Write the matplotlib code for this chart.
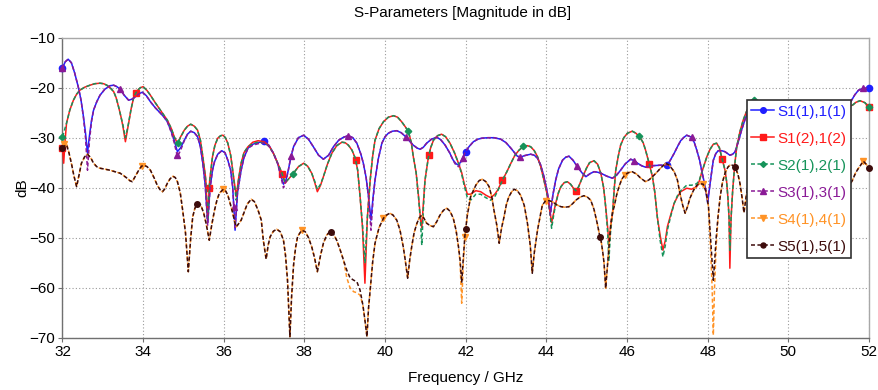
import numpy as np
import matplotlib
matplotlib.use("Agg")
import matplotlib.pyplot as plt
from matplotlib.lines import Line2D

plt.rcParams['font.family'] = ['Liberation Sans', 'DejaVu Sans']

# ---------------- data ----------------
freq_a = [32.00, 32.07, 32.14, 32.22, 32.30, 32.39, 32.46, 32.52, 32.57, 32.62, 32.67, 32.72, 32.77, 32.85, 32.93,
          33.05, 33.18, 33.27, 33.35, 33.43, 33.53, 33.64, 33.72, 33.81, 33.90, 33.98, 34.08, 34.18, 34.30, 34.43,
          34.52, 34.60, 34.70, 34.77, 34.85, 34.93, 35.02, 35.10, 35.18, 35.27, 35.35, 35.42, 35.48, 35.54, 35.60,
          35.66, 35.72, 35.77, 35.85, 35.95, 36.03, 36.10, 36.17, 36.22, 36.28, 36.34, 36.43, 36.50, 36.60, 36.72,
          36.85, 37.00, 37.12, 37.23, 37.33, 37.40, 37.48, 37.54, 37.60, 37.66, 37.73, 37.85, 37.98, 38.10, 38.22,
          38.35, 38.47, 38.60, 38.72, 38.85, 38.97, 39.09, 39.20, 39.30, 39.40, 39.46, 39.53, 39.59, 39.65, 39.70,
          39.75, 39.83, 39.92, 40.00, 40.08, 40.18, 40.29, 40.40, 40.51, 40.60, 40.70, 40.80, 40.87, 40.95, 41.03,
          41.15, 41.28, 41.38, 41.49, 41.60, 41.69, 41.76, 41.82, 41.90, 41.98, 42.08, 42.19, 42.30, 42.40, 42.55,
          42.70, 42.87, 43.00, 43.12, 43.20, 43.28, 43.36, 43.45, 43.61, 43.70, 43.78, 43.86, 43.94, 44.00, 44.04,
          44.10, 44.16, 44.23, 44.30, 44.40, 44.48, 44.56, 44.66, 44.77, 44.88, 44.98, 45.08, 45.18, 45.27, 45.35,
          45.50, 45.64, 45.74, 45.84, 45.96, 46.09, 46.18, 46.26, 46.36, 46.46, 46.55, 46.63, 46.83, 47.00, 47.08,
          47.17, 47.25, 47.33, 47.40, 47.48, 47.60, 47.67, 47.73, 47.80, 47.85, 47.93, 48.00, 48.07, 48.14, 48.20,
          48.26, 48.35, 48.43, 48.55, 48.62, 48.68, 48.76, 48.84, 48.92, 49.01, 49.10, 49.30, 49.60, 50.00, 50.40,
          50.80, 51.20, 51.50, 51.57, 51.65, 51.74, 51.86, 52.00]
s11 = [-16.0, -14.8, -14.3, -15.0, -17.0, -19.8, -22.5, -25.8, -29.0, -33.1, -29.5, -26.5, -24.5, -22.8, -21.5,
       -20.3, -19.6, -19.5, -19.8, -20.3, -21.5, -22.5, -22.3, -21.8, -21.2, -20.9, -21.6, -22.8, -24.0, -25.1,
       -25.9, -26.8, -28.8, -30.5, -32.8, -32.0, -30.5, -29.3, -28.7, -29.0, -29.8, -31.8, -35.1, -39.5, -47.0,
       -40.0, -36.5, -34.8, -33.3, -32.6, -33.0, -34.5, -36.5, -39.8, -48.5, -41.0, -36.5, -34.0, -32.1, -31.3,
       -31.0, -30.7, -31.5, -33.1, -35.0, -37.1, -39.3, -38.5, -36.5, -34.0, -31.8, -30.0, -29.5, -30.3, -31.8,
       -33.5, -34.3, -33.5, -31.8, -30.5, -29.9, -29.6, -30.0, -31.1, -33.3, -35.1, -38.0, -41.8, -46.5, -42.0,
       -38.5, -34.3, -31.1, -29.8, -29.1, -28.7, -28.6, -29.0, -29.8, -30.6, -31.5, -32.1, -32.3, -31.9, -31.1,
       -30.3, -29.9, -30.4, -31.5, -33.0, -34.5, -35.2, -35.5, -34.5, -33.0, -31.8, -30.8, -30.3, -30.1, -30.0,
       -30.0, -30.3, -31.0, -32.1, -32.9, -33.7, -33.9, -33.6, -33.3, -33.5, -34.1, -35.5, -37.8, -40.0, -41.8,
       -45.1, -41.5, -38.5, -36.3, -34.5, -33.9, -33.7, -34.5, -35.8, -37.0, -37.8, -37.2, -36.8, -36.9, -37.1,
       -37.7, -38.1, -37.5, -36.5, -35.2, -34.3, -34.6, -35.1, -35.6, -35.9, -35.7, -35.6, -35.5, -35.5, -34.4,
       -33.1, -31.8, -30.6, -30.0, -29.5, -29.9, -31.0, -32.5, -34.5, -36.5, -39.5, -43.1, -38.5, -34.5, -33.2,
       -32.6, -32.6, -32.8, -33.5, -33.3, -32.8, -30.8, -28.5, -26.5, -24.5, -23.2, -23.5, -24.5, -26.0, -27.5,
       -26.5, -24.5, -23.2, -22.5, -21.4, -20.5, -20.1, -20.1]
s33 = [-16.1, -14.8, -14.3, -15.0, -17.0, -19.8, -22.5, -26.0, -30.0, -36.5, -30.5, -26.8, -24.5, -22.8, -21.5,
       -20.3, -19.6, -19.5, -19.8, -20.3, -21.5, -22.5, -22.3, -21.8, -21.2, -20.9, -21.6, -22.8, -24.0, -25.1,
       -25.9, -26.8, -29.0, -31.0, -33.8, -32.5, -30.6, -29.3, -28.7, -29.0, -29.8, -31.8, -35.1, -39.5, -47.5,
       -40.0, -36.5, -34.8, -33.3, -32.6, -33.0, -34.5, -36.5, -39.8, -48.0, -41.0, -36.5, -34.0, -32.1, -31.5,
       -31.2, -31.0, -31.7, -33.1, -35.0, -37.3, -40.0, -38.8, -36.5, -34.0, -31.8, -30.0, -29.5, -30.3, -31.8,
       -33.5, -34.3, -33.5, -31.8, -30.5, -29.9, -29.6, -30.0, -31.1, -33.3, -35.1, -38.0, -42.0, -48.5, -42.5,
       -38.5, -34.3, -31.1, -29.8, -29.1, -28.7, -28.6, -29.0, -29.8, -30.6, -31.5, -32.1, -32.3, -31.9, -31.1,
       -30.3, -29.9, -30.4, -31.5, -33.0, -34.6, -35.5, -35.8, -34.8, -33.0, -31.8, -30.8, -30.3, -30.1, -30.0,
       -30.0, -30.3, -31.0, -32.1, -32.9, -33.7, -33.9, -33.6, -33.3, -33.5, -34.1, -35.5, -37.8, -40.0, -41.8,
       -45.5, -41.5, -38.5, -36.3, -34.5, -33.9, -33.7, -34.5, -35.8, -37.0, -37.8, -37.2, -36.8, -36.9, -37.1,
       -37.7, -38.1, -37.5, -36.5, -35.2, -34.3, -34.6, -35.1, -35.6, -35.9, -35.7, -35.6, -35.5, -35.5, -34.4,
       -33.1, -31.8, -30.6, -30.0, -29.5, -29.9, -31.0, -32.5, -34.5, -36.5, -39.5, -42.5, -38.5, -34.5, -33.2,
       -32.6, -32.6, -32.8, -33.5, -33.3, -32.8, -30.8, -28.5, -26.5, -24.5, -23.2, -23.5, -24.5, -26.0, -27.5,
       -26.5, -24.5, -23.2, -22.5, -21.4, -20.5, -20.1, -20.1]

freq_b = [32.00, 32.03, 32.06, 32.10, 32.18, 32.27, 32.35, 32.43, 32.55, 32.68, 32.80, 32.93, 33.02, 33.10, 33.18,
          33.27, 33.33, 33.39, 33.45, 33.50, 33.56, 33.60, 33.64, 33.70, 33.77, 33.85, 33.93, 34.00, 34.09, 34.18,
          34.30, 34.43, 34.52, 34.60, 34.70, 34.77, 34.85, 34.93, 35.02, 35.10, 35.18, 35.27, 35.35, 35.42, 35.48,
          35.55, 35.60, 35.65, 35.72, 35.78, 35.85, 35.92, 35.98, 36.04, 36.10, 36.17, 36.22, 36.27, 36.31, 36.36,
          36.43, 36.50, 36.60, 36.72, 36.85, 37.00, 37.12, 37.23, 37.33, 37.44, 37.52, 37.60, 37.71, 37.85, 37.98,
          38.08, 38.18, 38.25, 38.32, 38.40, 38.47, 38.57, 38.68, 38.80, 38.93, 39.01, 39.09, 39.18, 39.26, 39.32,
          39.38, 39.44, 39.50, 39.56, 39.63, 39.69, 39.75, 39.85, 39.96, 40.08, 40.21, 40.31, 40.41, 40.50, 40.58,
          40.65, 40.70, 40.77, 40.83, 40.88, 40.91, 40.95, 40.99, 41.07, 41.13, 41.20, 41.30, 41.40, 41.50, 41.61,
          41.72, 41.82, 41.90, 41.96, 42.04, 42.12, 42.25, 42.37, 42.50, 42.62, 42.72, 42.79, 42.91, 43.02, 43.12,
          43.22, 43.32, 43.45, 43.53, 43.61, 43.70, 43.78, 43.86, 43.94, 44.01, 44.07, 44.13, 44.18, 44.23, 44.30,
          44.36, 44.44, 44.52, 44.60, 44.69, 44.73, 44.80, 44.90, 45.00, 45.07, 45.18, 45.27, 45.35, 45.42, 45.47,
          45.52, 45.55, 45.59, 45.64, 45.68, 45.72, 45.78, 45.84, 45.92, 46.01, 46.13, 46.22, 46.32, 46.40, 46.46,
          46.56, 46.63, 46.69, 46.75, 46.82, 46.89, 46.95, 47.00, 47.08, 47.17, 47.25, 47.33, 47.48, 47.60, 47.73,
          47.80, 47.85, 47.92, 47.98, 48.06, 48.14, 48.22, 48.29, 48.35, 48.43, 48.47, 48.50, 48.53, 48.55, 48.58,
          48.62, 48.67, 48.72, 48.80, 48.88, 48.96, 49.05, 49.14, 49.30, 49.70, 50.10, 50.50, 50.90, 51.30, 51.59,
          51.68, 51.78, 51.90, 52.00]
s12 = [-32.0, -35.1, -31.0, -27.1, -24.5, -22.5, -21.3, -20.5, -19.9, -19.5, -19.2, -19.1, -19.2, -19.5, -20.0,
       -20.8, -22.0, -23.8, -25.8, -27.8, -30.8, -29.0, -27.1, -24.3, -21.8, -20.6, -20.0, -19.8, -20.5, -21.5,
       -23.0, -24.5, -25.5, -26.5, -28.2, -29.8, -31.1, -29.8, -28.5, -27.7, -27.3, -27.7, -28.5, -30.5, -33.8,
       -38.0, -45.8, -38.5, -33.8, -31.5, -30.1, -29.6, -29.5, -30.0, -31.1, -33.5, -36.5, -39.5, -41.8, -38.5,
       -35.1, -33.0, -31.8, -30.9, -30.6, -30.8, -31.6, -33.1, -35.0, -37.0, -39.1, -38.3, -37.3, -35.8, -35.1,
       -35.7, -37.1, -38.8, -40.8, -39.5, -37.8, -35.3, -33.1, -31.6, -30.9, -31.0, -31.5, -32.5, -34.1, -36.5,
       -41.8, -48.0, -59.1, -46.0, -38.5, -33.8, -30.5, -28.2, -26.8, -25.9, -25.6, -25.9, -26.8, -27.8, -28.8,
       -31.0, -33.8, -37.0, -41.8, -46.5, -48.0, -43.0, -38.5, -34.1, -32.0, -30.5, -29.6, -29.3, -29.8, -31.1,
       -33.0, -35.1, -37.0, -39.1, -41.3, -41.3, -40.6, -40.8, -41.5, -42.0, -41.3, -40.5, -38.5, -36.8, -35.1,
       -33.5, -32.5, -31.6, -31.6, -31.8, -32.6, -33.8, -35.8, -38.5, -41.0, -43.8, -47.0, -45.0, -43.1, -41.0,
       -39.8, -39.0, -38.8, -39.3, -40.3, -40.6, -39.8, -37.8, -36.0, -35.0, -34.6, -35.3, -37.1, -40.0, -43.8,
       -48.0, -51.5, -48.0, -45.1, -40.5, -36.5, -33.8, -31.5, -30.0, -29.1, -28.7, -29.1, -29.9, -31.0, -32.5,
       -35.5, -37.8, -41.0, -45.8, -49.5, -52.5, -50.5, -47.8, -45.5, -43.1, -41.8, -40.8, -40.1, -40.3, -39.8,
       -38.5, -37.0, -35.3, -33.8, -32.3, -31.3, -31.1, -32.0, -34.0, -36.5, -38.8, -41.8, -46.0, -56.1, -46.0,
       -40.5, -35.5, -31.8, -28.8, -26.5, -24.8, -23.5, -22.5, -23.0, -25.5, -28.0, -27.5, -25.5, -24.2, -23.5,
       -22.9, -22.6, -23.0, -23.9]
s21 = [-29.8, -29.0, -28.2, -27.1, -24.5, -22.5, -21.3, -20.5, -19.9, -19.5, -19.2, -19.1, -19.2, -19.5, -20.0,
       -20.8, -22.0, -23.8, -25.8, -27.5, -30.0, -28.6, -27.0, -24.3, -21.8, -20.6, -20.0, -19.8, -20.5, -21.5,
       -23.0, -24.5, -25.5, -26.5, -28.2, -29.8, -31.3, -29.9, -28.5, -27.7, -27.3, -27.7, -28.5, -30.5, -33.8,
       -38.5, -46.5, -38.8, -33.8, -31.5, -30.1, -29.6, -29.5, -30.0, -31.1, -33.5, -36.5, -40.0, -42.5, -38.8,
       -35.1, -33.0, -31.8, -31.2, -30.9, -31.0, -31.7, -33.1, -35.0, -37.0, -39.0, -38.3, -37.3, -35.8, -35.1,
       -35.7, -37.1, -38.6, -40.3, -39.3, -37.8, -35.3, -33.1, -31.6, -30.9, -31.0, -31.5, -32.5, -34.1, -36.5,
       -41.8, -47.5, -55.1, -46.0, -38.5, -33.8, -30.5, -28.2, -26.8, -25.9, -25.6, -25.9, -26.8, -27.8, -28.8,
       -31.0, -33.8, -37.0, -42.0, -47.0, -51.5, -44.0, -38.5, -34.1, -32.0, -30.5, -29.6, -29.3, -29.8, -31.1,
       -33.0, -35.1, -37.3, -39.5, -42.0, -42.5, -41.3, -41.3, -42.0, -42.5, -41.8, -40.7, -38.5, -36.8, -35.1,
       -33.5, -32.5, -31.6, -31.6, -31.8, -32.6, -33.8, -35.8, -38.5, -41.0, -44.0, -48.1, -45.5, -43.3, -41.0,
       -39.8, -39.0, -38.8, -39.3, -40.3, -40.6, -39.8, -37.8, -36.0, -35.0, -34.6, -35.3, -37.1, -40.0, -43.8,
       -49.0, -54.5, -49.0, -45.1, -40.5, -36.5, -33.8, -31.5, -30.0, -29.1, -28.7, -29.1, -29.9, -31.0, -32.5,
       -35.5, -37.8, -41.0, -45.8, -50.5, -53.8, -51.5, -48.5, -45.8, -43.1, -41.6, -40.6, -39.5, -39.5, -39.2,
       -38.3, -37.0, -35.3, -33.8, -32.3, -31.3, -31.1, -32.0, -34.0, -36.5, -38.8, -41.8, -46.0, -52.5, -46.0,
       -40.5, -35.5, -31.8, -28.8, -26.5, -24.8, -23.5, -22.4, -23.0, -25.5, -28.0, -27.5, -25.5, -24.2, -23.5,
       -22.9, -22.6, -23.0, -23.9]

freq_c = [32.00, 32.06, 32.10, 32.16, 32.22, 32.28, 32.35, 32.41, 32.47, 32.55, 32.62, 32.70, 32.77, 32.85, 32.93,
          33.05, 33.18, 33.30, 33.43, 33.52, 33.60, 33.67, 33.73, 33.80, 33.89, 33.96, 34.02, 34.10, 34.18, 34.27,
          34.35, 34.42, 34.48, 34.54, 34.60, 34.67, 34.74, 34.80, 34.85, 34.92, 34.98, 35.05, 35.12, 35.18, 35.23,
          35.28, 35.33, 35.38, 35.43, 35.50, 35.56, 35.64, 35.70, 35.77, 35.83, 35.89, 35.99, 36.05, 36.10, 36.16,
          36.22, 36.27, 36.31, 36.36, 36.43, 36.50, 36.58, 36.68, 36.76, 36.85, 36.93, 36.98, 37.05, 37.10, 37.15,
          37.23, 37.31, 37.40, 37.48, 37.53, 37.58, 37.64, 37.68, 37.73, 37.78, 37.83, 37.93, 38.02, 38.10, 38.18,
          38.25, 38.32, 38.40, 38.47, 38.55, 38.64, 38.72, 38.80, 38.88, 38.97, 39.05, 39.13, 39.22, 39.30, 39.38,
          39.45, 39.50, 39.55, 39.59, 39.63, 39.69, 39.75, 39.85, 39.96, 40.05, 40.12, 40.20, 40.29, 40.37, 40.45,
          40.50, 40.56, 40.61, 40.66, 40.72, 40.79, 40.85, 40.91, 40.97, 41.03, 41.12, 41.20, 41.28, 41.36, 41.45,
          41.53, 41.61, 41.69, 41.76, 41.82, 41.86, 41.90, 41.94, 41.98, 42.04, 42.12, 42.25, 42.33, 42.41, 42.50,
          42.58, 42.65, 42.70, 42.77, 42.83, 42.89, 42.95, 43.01, 43.07, 43.14, 43.20, 43.28, 43.36, 43.45, 43.53,
          43.60, 43.65, 43.70, 43.78, 43.85, 43.90, 43.98, 44.07, 44.15, 44.25, 44.36, 44.46, 44.56, 44.65, 44.73,
          44.83, 44.93, 45.02, 45.10, 45.18, 45.26, 45.32, 45.36, 45.40, 45.43, 45.47, 45.51, 45.55, 45.60, 45.64,
          45.68, 45.74, 45.80, 45.87, 45.94, 46.03, 46.13, 46.24, 46.34, 46.46, 46.55, 46.63, 46.73, 46.83, 46.96,
          47.05, 47.17, 47.25, 47.31, 47.38, 47.44, 47.50, 47.56, 47.65, 47.73, 47.81, 47.89, 47.96, 48.02, 48.07,
          48.11, 48.14, 48.17, 48.21, 48.26, 48.31, 48.37, 48.43, 48.50, 48.55, 48.62, 48.68, 48.75, 48.80, 48.85,
          48.90, 48.95, 48.98, 49.05, 49.30, 49.60, 50.00, 50.40, 50.80, 51.10, 51.35, 51.59, 51.67, 51.74, 51.86,
          51.93, 52.00]
s44 = [-31.5, -31.0, -31.1, -33.0, -35.1, -37.5, -39.8, -37.5, -35.1, -33.8, -33.3, -34.0, -35.1, -35.8, -36.1,
       -36.3, -36.5, -36.8, -37.1, -37.6, -38.1, -38.6, -38.8, -37.8, -36.5, -35.7, -35.5, -35.8, -36.5, -38.0,
       -39.5, -40.4, -40.8, -40.2, -39.1, -38.2, -37.7, -38.0, -38.8, -41.0, -44.5, -49.0, -56.8, -50.0, -45.8,
       -44.2, -43.3, -43.2, -43.5, -45.0, -47.1, -50.5, -47.5, -44.5, -42.5, -41.1, -40.3, -40.7, -41.5, -43.2,
       -45.0, -46.8, -47.8, -47.3, -46.5, -45.0, -43.3, -42.3, -42.8, -44.5, -46.5, -50.5, -54.3, -51.5, -49.8,
       -48.7, -48.3, -48.8, -50.5, -53.5, -58.5, -69.8, -62.0, -55.5, -52.0, -49.8, -48.5, -48.8, -50.0, -51.8,
       -54.0, -56.8, -53.5, -51.1, -49.5, -48.7, -49.3, -50.5, -52.3, -54.5, -58.0, -60.0, -60.8, -61.0, -61.5,
       -63.5, -66.5, -69.8, -64.0, -60.5, -55.0, -51.1, -48.0, -46.1, -45.4, -45.1, -45.5, -46.5, -48.5, -51.8,
       -54.5, -58.1, -54.5, -51.8, -49.0, -47.1, -46.0, -45.5, -46.2, -47.1, -47.6, -47.8, -46.8, -45.5, -44.5,
       -44.1, -44.7, -46.1, -48.5, -51.8, -55.0, -63.1, -55.0, -49.8, -45.5, -41.8, -39.5, -38.6, -38.3, -38.8,
       -39.8, -42.0, -44.5, -47.5, -51.1, -48.0, -45.8, -43.3, -41.8, -40.8, -40.3, -40.6, -41.5, -43.5, -47.1,
       -51.5, -57.1, -53.0, -48.5, -45.5, -43.5, -42.6, -42.6, -42.8, -43.4, -43.8, -43.9, -43.8, -43.2, -42.5,
       -41.9, -41.6, -41.9, -42.5, -44.3, -47.1, -49.5, -50.8, -53.0, -55.1, -60.1, -56.0, -51.8, -47.0, -45.0,
       -43.8, -41.5, -39.8, -38.3, -37.5, -37.0, -36.8, -37.3, -38.1, -38.8, -38.4, -37.8, -37.0, -36.1, -35.1,
       -35.5, -36.8, -38.5, -41.1, -43.5, -45.1, -43.8, -42.1, -40.5, -39.5, -39.2, -39.3, -40.8, -43.8, -51.8,
       -60.0, -69.5, -60.0, -51.8, -45.5, -41.8, -38.8, -37.1, -35.9, -35.5, -35.5, -35.9, -37.3, -39.1, -41.8,
       -45.0, -42.0, -40.5, -37.1, -33.0, -31.5, -32.0, -35.0, -40.0, -44.0, -42.0, -38.5, -37.0, -36.1, -34.7,
       -35.3, -36.1]
s55 = [-32.1, -31.6, -31.4, -33.0, -35.1, -37.5, -39.8, -37.5, -35.1, -33.8, -33.3, -34.0, -35.1, -35.8, -36.1,
       -36.3, -36.5, -36.8, -37.1, -37.6, -38.1, -38.6, -38.8, -37.8, -36.5, -35.7, -35.5, -35.8, -36.5, -38.0,
       -39.5, -40.4, -40.8, -40.2, -39.1, -38.2, -37.7, -38.0, -38.8, -41.0, -44.5, -49.0, -56.8, -50.0, -45.8,
       -44.2, -43.3, -43.2, -43.5, -45.0, -47.1, -50.5, -47.5, -44.5, -42.5, -41.1, -40.3, -40.7, -41.5, -43.2,
       -45.0, -46.8, -47.8, -47.3, -46.5, -45.0, -43.3, -42.3, -42.8, -44.5, -46.5, -50.5, -54.3, -51.5, -49.8,
       -48.7, -48.3, -48.8, -50.5, -53.5, -58.5, -69.8, -62.0, -55.5, -52.0, -49.8, -48.5, -48.8, -50.0, -51.8,
       -54.0, -56.8, -53.5, -51.1, -49.5, -48.7, -49.3, -50.5, -52.3, -54.5, -56.5, -58.0, -58.5, -58.8, -60.5,
       -63.5, -66.5, -69.8, -64.0, -60.5, -55.0, -51.1, -48.0, -46.1, -45.4, -45.1, -45.5, -46.5, -48.5, -51.8,
       -54.5, -58.1, -54.5, -51.8, -49.0, -47.1, -46.0, -45.5, -46.2, -47.1, -47.6, -47.8, -46.8, -45.5, -44.5,
       -44.1, -44.7, -46.1, -48.5, -51.8, -54.5, -59.0, -54.0, -49.5, -45.5, -41.8, -39.5, -38.6, -38.3, -38.8,
       -39.8, -42.0, -44.5, -47.5, -51.1, -48.0, -45.8, -43.3, -41.8, -40.8, -40.3, -40.6, -41.5, -43.5, -47.1,
       -51.5, -57.1, -53.0, -48.5, -45.5, -43.5, -42.6, -42.6, -42.8, -43.4, -43.8, -43.9, -43.8, -43.2, -42.5,
       -41.9, -41.6, -41.9, -42.5, -44.3, -47.1, -49.5, -50.8, -53.0, -55.1, -60.1, -56.0, -51.8, -47.0, -45.0,
       -43.8, -41.5, -39.8, -38.3, -37.5, -37.0, -36.8, -37.3, -38.1, -38.8, -38.4, -37.8, -37.0, -36.1, -35.1,
       -35.5, -36.8, -38.5, -41.1, -43.5, -45.1, -43.8, -42.1, -40.5, -39.5, -39.2, -39.3, -40.8, -43.8, -50.0,
       -55.0, -58.5, -55.0, -50.0, -45.5, -41.8, -38.8, -37.1, -35.9, -35.5, -35.5, -35.9, -37.3, -39.1, -41.8,
       -45.0, -42.0, -40.5, -37.1, -33.0, -31.5, -32.0, -35.0, -40.0, -44.0, -42.0, -38.5, -37.0, -36.1, -34.7,
       -35.3, -36.1]

labels = ["S1(1),1(1)", "S1(2),1(2)", "S2(1),2(1)", "S3(1),3(1)", "S4(1),4(1)", "S5(1),5(1)"]

# marker frequencies (where the reference places its symbols)
mark_s11 = [32.0, 37.0, 42.0, 47.0, 52.0]
mark_s12 = [32.0, 33.82, 35.64, 37.45, 39.27, 41.09, 42.91, 44.73, 46.55, 48.36, 50.18, 52.0]
mark_s21 = [32.0, 34.86, 37.71, 40.57, 43.43, 46.29, 49.14, 52.0]
mark_s33 = [32.0, 33.42, 34.84, 36.25, 37.67, 39.09, 40.51, 41.93, 43.34, 44.76, 46.18, 47.6, 49.02, 50.44, 51.85]
mark_s44 = [32.03, 33.98, 35.99, 37.93, 39.96, 41.98, 43.98, 45.94, 47.89, 49.87, 51.86]
mark_s55 = [32.0, 35.33, 38.67, 42.0, 45.33, 48.67, 52.0]

x_ticks = [32, 34, 36, 38, 40, 42, 44, 46, 48, 50, 52]
y_ticks = [-70, -60, -50, -40, -30, -20, -10]

# ---------------- styling ----------------
dash = (0, (2.6, 1.6))
series = [
    (freq_a, s11, mark_s11, "#1f1fff", "-", "o", 4.5),
    (freq_b, s12, mark_s12, "#ff1a1a", "-", "s", 4.2),
    (freq_b, s21, mark_s21, "#16935a", dash, "D", 3.3),
    (freq_a, s33, mark_s33, "#8a1a96", dash, "^", 5.0),
    (freq_c, s44, mark_s44, "#ff9326", dash, "v", 5.0),
    (freq_c, s55, mark_s55, "#3d0c0c", dash, "o", 4.0),
]

fig = plt.figure(figsize=(8.79, 3.90), dpi=100)
ax = fig.add_axes([0.0711, 0.1341, 0.9175, 0.7692])

handles = []
for (f, v, mf, col, ls, mk, ms), lab in zip(series, labels):
    ax.plot(f, v, color=col, ls=ls, lw=1.1, zorder=3)
    my = np.interp(mf, f, v)
    ax.plot(mf, my, ls="none", marker=mk, ms=ms, color=col, mec=col, zorder=3, clip_on=False)
    handles.append(Line2D([], [], color=col, ls=ls, lw=1.1, marker=mk, ms=ms * 0.9, mec=col))

ax.set_xlim(32, 52)
ax.set_ylim(-70, -10)
ax.set_xticks(x_ticks)
ax.set_yticks(y_ticks)
ax.tick_params(axis="both", labelsize=11, direction="out", length=3, width=0.8,
               color="#707070", pad=2.5)
ax.grid(True, ls=(0, (1, 2)), color="#9a9a9a", lw=0.8, zorder=0)
for side in ["left", "bottom"]:
    ax.spines[side].set_color("#707070")
for side in ["top", "right"]:
    ax.spines[side].set_color("#a8a8a8")
for sp in ax.spines.values():
    sp.set_linewidth(1.0)

ax.set_xlabel("Frequency / GHz", fontsize=11)
ax.xaxis.set_label_coords(0.5, -0.111)
ax.set_ylabel("dB", fontsize=11)
ax.yaxis.set_label_coords(-0.041, 0.5)
fig.text(0.5267, 0.9572, "S-Parameters [Magnitude in dB]", ha="center", va="baseline", fontsize=11)

leg = ax.legend(handles, labels, loc="upper right", bbox_to_anchor=(0.9775, 0.7923),
                borderaxespad=0, fancybox=False, framealpha=1, edgecolor="#303030",
                prop={"size": 11.0}, handlelength=1.5, handletextpad=0.2,
                borderpad=0.3, labelspacing=0.85)
leg.get_frame().set_linewidth(1.2)
leg.set_zorder(10)
for t, (f, v, mf, col, ls, mk, ms) in zip(leg.get_texts(), series):
    t.set_color(col)

fig.savefig("out.png", dpi=100)
